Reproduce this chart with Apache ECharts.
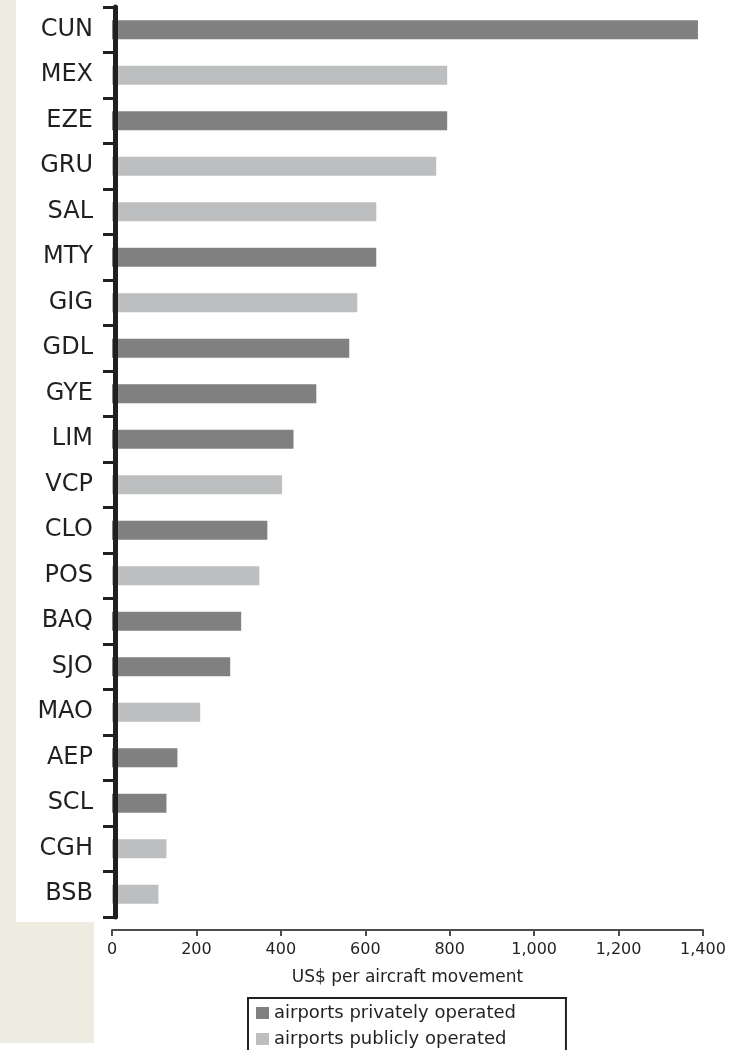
<!DOCTYPE html>
<html>
<head>
<meta charset="utf-8">
<script src="https://cdn.jsdelivr.net/npm/echarts@6/dist/echarts.min.js"></script>
<style>
html,body{margin:0;padding:0;background:#fff;}
#c{width:737px;height:1050px;}
</style>
</head>
<body>
<div id="c"></div>
<script>
const categories = ['CUN','MEX','EZE','GRU','SAL','MTY','GIG','GDL','GYE','LIM','VCP','CLO','POS','BAQ','SJO','MAO','AEP','SCL','CGH','BSB'];
const privateValues = [1388,'-',794,'-','-',626,'-',562,484,430,'-',368,'-',306,280,'-',155,129,'-','-'];
const publicValues  = ['-',794,'-',768,626,'-',581,'-','-','-',403,'-',349,'-','-',209,'-','-',129,110];
const xTicks = [0,200,400,600,800,1000,1200,1400];
const seriesNames = ['airports privately operated','airports publicly operated'];

const chart = echarts.init(document.getElementById('c'), null, {renderer:'canvas'});
const fmt = v => v.toLocaleString('en-US');
chart.setOption({
  backgroundColor:'#ffffff',
  animation:false,
  graphic:[
    {type:'rect', z:-10, silent:true, shape:{x:0,y:0,width:94,height:1043}, style:{fill:'#eeebe0'}},
    {type:'rect', z:-9, silent:true, shape:{x:16,y:0,width:721,height:922}, style:{fill:'#ffffff'}}
  ],
  grid:{left:112, right:34, top:7, bottom:133, containLabel:false},
  legend:{
    orient:'vertical', left:248, top:998, height:50,
    padding:[6,50,30,8],
    borderColor:'#231f20', borderWidth:2,
    itemWidth:13, itemHeight:12, itemGap:8,
    icon:'rect',
    textStyle:{fontFamily:'DejaVu Sans', fontSize:18, color:'#231f20'},
    data:seriesNames
  },
  xAxis:{
    type:'value', min:xTicks[0], max:xTicks[xTicks.length-1], interval:200,
    offset:13,
    axisLine:{show:true, lineStyle:{color:'#4d4d4d', width:2}},
    axisTick:{show:true, length:6, lineStyle:{color:'#4d4d4d', width:2}},
    splitLine:{show:false},
    axisLabel:{margin:12, fontFamily:'DejaVu Sans', fontSize:16, color:'#231f20', formatter:fmt},
    name:'US$ per aircraft movement', nameLocation:'middle', nameGap:39,
    nameTextStyle:{fontFamily:'DejaVu Sans', fontSize:17, color:'#231f20'}
  },
  yAxis:{
    type:'category', data:categories, inverse:true, offset:-3, z:10,
    axisLine:{show:true, lineStyle:{color:'#231f20', width:5}},
    axisTick:{show:true, length:12, lineStyle:{color:'#231f20', width:3}},
    axisLabel:{margin:22, fontFamily:'DejaVu Sans', fontSize:24, color:'#231f20'},
    splitLine:{show:false}
  },
  series:[
    {name:seriesNames[0], type:'bar', data:privateValues, barWidth:19, barGap:'-100%', z:1,
     itemStyle:{color:'#808080'}},
    {name:seriesNames[1], type:'bar', data:publicValues, barWidth:19, barGap:'-100%', z:1,
     itemStyle:{color:'#bdbec0'}}
  ]
});
</script>
</body>
</html>
